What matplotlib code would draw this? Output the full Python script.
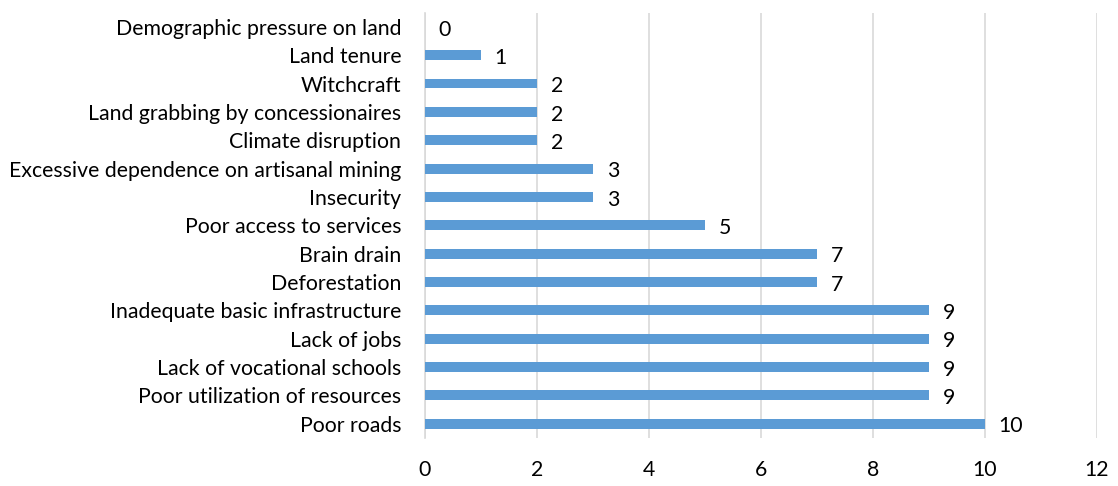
import matplotlib.pyplot as plt

# problems cited, bottom of list first
causes = [
    "Poor roads",
    "Poor utilization of resources",
    "Lack of vocational schools",
    "Lack of jobs",
    "Inadequate basic infrastructure",
    "Deforestation",
    "Brain drain",
    "Poor access to services",
    "Insecurity",
    "Excessive dependence on artisanal mining",
    "Climate disruption",
    "Land grabbing by concessionaires",
    "Witchcraft",
    "Land tenure",
    "Demographic pressure on land",
]
counts = [10, 9, 9, 9, 9, 7, 7, 5, 3, 3, 2, 2, 2, 1, 0]
xticks = [0, 2, 4, 6, 8, 10, 12]

plt.rcParams['font.family'] = ['Lato', 'DejaVu Sans']
fs = 15.3

fig = plt.figure(figsize=(11.18, 4.86), dpi=100)
ax = fig.add_axes([0.380, 0.099, 0.601, 0.875])

ypos = range(len(causes))
ax.barh(ypos, counts, height=0.35, color='#5B9BD5', zorder=3)

for y, v in zip(ypos, counts):
    ax.annotate(str(v), (v, y), xytext=(10, -2), textcoords='offset points',
                va='center', ha='left', fontsize=fs, color='black')

ax.set_xlim(0, 12)
ax.set_ylim(-0.5, len(causes) - 0.5)
ax.set_xticks(xticks)
ax.set_yticks(list(ypos))
ax.set_yticklabels(causes, fontsize=fs)
ax.tick_params(axis='x', labelsize=fs, length=0, pad=16)
ax.tick_params(axis='y', length=0, pad=17)
ax.xaxis.grid(True, color='#D9D9D9', linewidth=1.2, zorder=0)
for s in ['top', 'right', 'bottom']:
    ax.spines[s].set_visible(False)
ax.spines['left'].set_color('#D9D9D9')
ax.spines['left'].set_linewidth(1.2)

fig.savefig('out.png', dpi=100)
